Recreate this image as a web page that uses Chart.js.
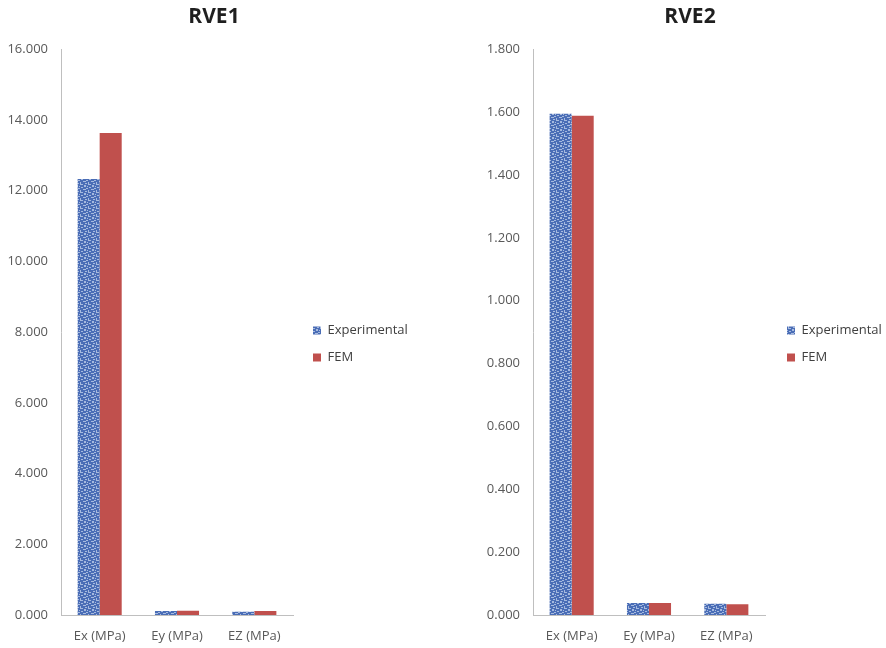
<!DOCTYPE html>
<html>
<head>
<meta charset="utf-8">
<script src="https://cdn.jsdelivr.net/npm/chart.js@4.4.0/dist/chart.umd.min.js"></script>
<style>
  html, body { margin: 0; padding: 0; background: #fff; overflow: hidden; }
  #wrap { position: relative; width: 886px; height: 648px; overflow: hidden; }
  canvas { position: absolute; top: 0; }
  #rve1 { left: 0; }
  #rve2 { left: 484px; }
</style>
</head>
<body>
<div id="wrap">
  <canvas id="rve1" width="428" height="648"></canvas>
  <canvas id="rve2" width="412" height="648"></canvas>
</div>
<script>
// data
const categories = ['Ex (MPa)', 'Ey (MPa)', 'EZ (MPa)'];
const seriesNames = ['Experimental', 'FEM'];

const rve1Experimental = [12.33, 0.11, 0.09];
const rve1Fem = [13.63, 0.12, 0.11];
const rve1AxisMax = 16;
const rve1AxisStep = 2;

const rve2Experimental = [1.595, 0.038, 0.036];
const rve2Fem = [1.588, 0.038, 0.034];
const rve2AxisMax = 1.8;
const rve2AxisStep = 0.2;

const fontFamily = "'Open Sans', sans-serif";

// speckled blue fill for the Experimental bars
function makePattern() {
  const c = document.createElement('canvas');
  c.width = 8;
  c.height = 8;
  const g = c.getContext('2d');
  g.fillStyle = '#4a6db6';
  g.fillRect(0, 0, 8, 8);
  g.fillStyle = '#a6badf';
  const marks = [[0, 0, 3, 1], [4, 1, 2, 2], [1, 3, 2, 1], [6, 4, 2, 1], [3, 5, 3, 1], [0, 6, 1, 2], [5, 7, 2, 1], [7, 2, 1, 1]];
  marks.forEach(m => g.fillRect(m[0], m[1], m[2], m[3]));
  return g.createPattern(c, 'repeat');
}

// lets the legend keep a fixed width and nudges it into place
const legendFix = {
  id: 'legendFix',
  beforeLayout(chart, args, opts) {
    const legend = chart.legend;
    if (legend && !legend._fixed) {
      const origFit = legend.fit;
      legend.fit = function () {
        origFit.call(this);
        this.width = opts.width;
      };
      legend._fixed = true;
    }
  },
  afterLayout(chart, args, opts) {
    chart.legend.left += opts.shiftX;
    chart.legend.right += opts.shiftX;
    chart.legend.top += opts.shiftY;
    chart.legend.bottom += opts.shiftY;
  }
};

function makeChart(id, title, expData, femData, axisMax, axisStep, padRight, axisWidth, legendWidth, shiftX) {
  const ctx = document.getElementById(id).getContext('2d');
  return new Chart(ctx, {
    type: 'bar',
    data: {
      labels: categories,
      datasets: [{
        label: seriesNames[0],
        data: expData,
        backgroundColor: makePattern(),
        borderWidth: 0,
        barPercentage: 1,
        categoryPercentage: 0.57
      }, {
        label: seriesNames[1],
        data: femData,
        backgroundColor: '#c0504d',
        borderWidth: 0,
        barPercentage: 1,
        categoryPercentage: 0.57
      }]
    },
    options: {
      responsive: false,
      devicePixelRatio: 1,
      animation: false,
      layout: {
        padding: { left: 0, right: padRight, top: 0, bottom: 0 }
      },
      plugins: {
        title: {
          display: true,
          text: title,
          color: '#1f1f1f',
          font: { family: fontFamily, size: 21, weight: 'bold' },
          padding: { top: 4, bottom: 20 }
        },
        legend: {
          position: 'right',
          labels: {
            boxWidth: 8,
            boxHeight: 8,
            padding: 14,
            color: '#404040',
            font: { family: fontFamily, size: 13 }
          }
        },
        tooltip: { enabled: false },
        legendFix: { width: legendWidth, shiftX: shiftX, shiftY: 20 }
      },
      scales: {
        x: {
          grid: { display: false, drawTicks: false },
          border: { color: '#bfbfbf', width: 1 },
          afterFit: scale => { scale.height = 33; },
          ticks: {
            color: '#595959',
            padding: 13,
            font: { family: fontFamily, size: 13 }
          }
        },
        y: {
          min: 0,
          max: axisMax,
          grid: { display: false, drawTicks: false },
          border: { color: '#bfbfbf', width: 1 },
          afterFit: scale => { scale.width = axisWidth; },
          ticks: {
            stepSize: axisStep,
            color: '#595959',
            padding: 13,
            font: { family: fontFamily, size: 13 },
            callback: value => Number(value).toFixed(3)
          }
        }
      }
    },
    plugins: [legendFix]
  });
}

makeChart('rve1', 'RVE1', rve1Experimental, rve1Fem, rve1AxisMax, rve1AxisStep, 0, 61, 135, 6);
makeChart('rve2', 'RVE2', rve2Experimental, rve2Fem, rve2AxisMax, rve2AxisStep, 0, 49, 131, 8);
</script>
</body>
</html>
